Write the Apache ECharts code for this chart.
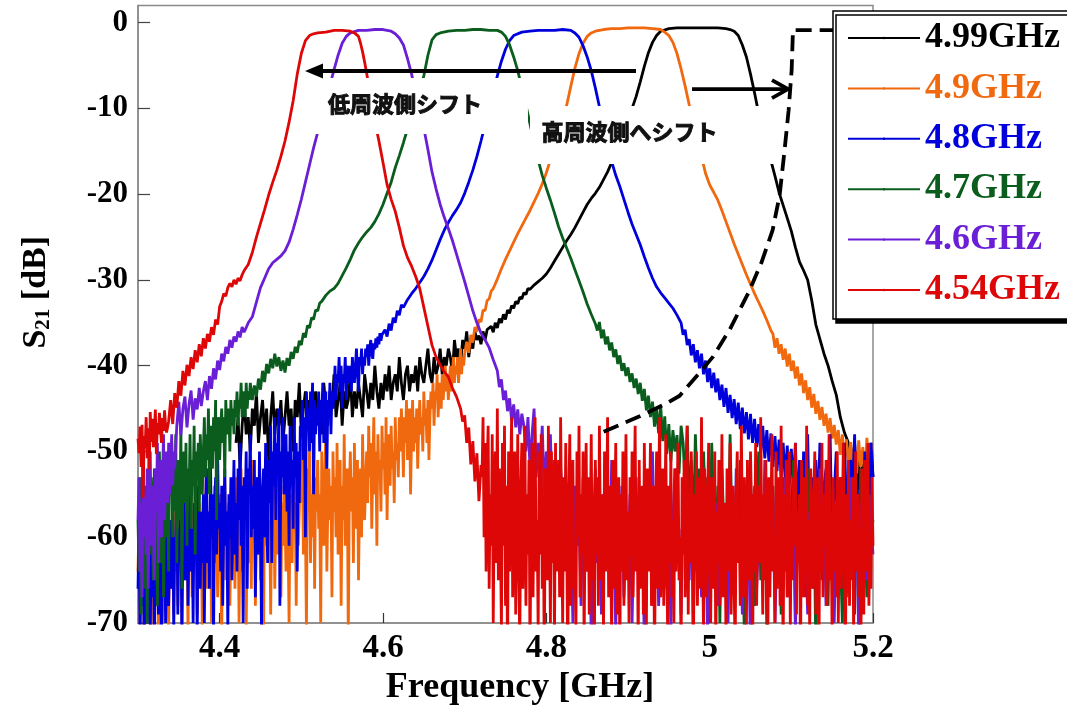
<!DOCTYPE html>
<html>
<head>
<meta charset="utf-8">
<script src="https://cdn.jsdelivr.net/npm/echarts@6/dist/echarts.min.js"></script>
<style>
  html, body { margin: 0; padding: 0; background: #fff; }
  #chart { width: 1067px; height: 708px; }
</style>
</head>
<body>
<div id="chart"></div>
<script>
// ---------- axes ----------
const X_TICKS = [4.4, 4.6, 4.8, 5.0, 5.2];
const Y_TICKS = [-70, -60, -50, -40, -30, -20, -10, 0];

// ---------- filters (centre frequency) ----------
const SERIES_NAMES = ['4.99GHz', '4.9GHz', '4.8GHz', '4.7GHz', '4.6GHz', '4.54GHz'];
const SERIES_COLORS = ['#000000', '#f0690f', '#0000dc', '#0b5d1e', '#6a1fd6', '#de0707'];

// frequency spacing of the VNA sweeps, GHz
const FINE_STEP = 0.00125;
const COARSE_STEP = 0.0025;

// ===== 4.99 GHz =====
const G499_LOW_START = 4.42;
const G499_LOW = [
  -49,-46,-52,-47,-44,-48,-46,
  -50,-45,-47,-43,-49,-46,-44,-48,-45,-51,-46,-43,-48,-45,-47,-44,
  -49,-46,-43,-47,-45,-50,-44,-46,-42,-48,-45,-43,-47,-44,-49,-45,
  -43,-46,-44,-48,-42,-45,-47,-43,-45,-41,-46,-44,-42,-47,-43,-45,
  -44,-41,-46,-43,-45,-42,-44,-46,-41,-43,-45,-42,-44,-40,-43,-45,
  -42,-44,-41,-43,-40,-44,-42,-41,-43,-39,-42,-44,-41,-40,-43,-41,
  -42,-40,-43,-39,-41,-42,-40,-38,-41,-42,-39,-41,-40,-38,-41,-39,
  -40,-38,-39,-41,-37,-39,-38,-40,-37,-38,-36,-39,-37,-38,-36,-37,
  -36.5,-37.5,-36,-37,-35.8
];
const G499_TRACE = [
  [4.7325,-35.4],[4.735,-36.1],[4.7375,-35.0],[4.740,-35.6],[4.7425,-34.5],[4.745,-35.0],[4.7475,-34.0],
  [4.750,-34.6],[4.7525,-33.5],[4.755,-33.9],[4.7575,-33.0],[4.760,-33.3],[4.7625,-32.5],[4.765,-32.8],
  [4.7675,-32.0],[4.770,-32.2],[4.7725,-31.5],[4.775,-31.7],[4.7775,-31.0],[4.780,-31.1],[4.785,-30.6],
  [4.790,-30.2],[4.795,-29.8],[4.800,-29.3],[4.805,-28.6],[4.810,-27.8],[4.815,-27.0],[4.820,-26.2],
  [4.825,-25.4],[4.830,-24.7],[4.835,-23.9],[4.840,-23.0],[4.845,-22.1],[4.850,-21.2],[4.855,-20.5],
  [4.860,-19.9],[4.865,-19.2],[4.870,-18.3],[4.875,-17.4],[4.880,-16.3],[4.885,-15.0],[4.890,-13.8],
  [4.895,-12.5],[4.900,-11.2],[4.905,-10.0],[4.910,-8.6],[4.915,-6.9],[4.920,-5.1],[4.925,-3.5],
  [4.930,-2.3],[4.935,-1.5],[4.940,-1.0],[4.950,-0.7],[4.960,-0.6],[4.970,-0.6],[4.980,-0.6],
  [4.990,-0.6],[5.000,-0.6],[5.010,-0.6],[5.020,-0.7],[5.025,-0.8],[5.030,-1.0],[5.035,-1.5],
  [5.040,-2.6],[5.045,-4.0],[5.050,-6.0],[5.055,-8.2],[5.060,-10.6],[5.065,-12.6],[5.070,-14.4],
  [5.075,-16.1],[5.080,-17.9],[5.085,-19.8],[5.090,-21.3],[5.095,-22.8],[5.100,-24.3],[5.105,-26.2],
  [5.110,-27.9],[5.115,-28.9],[5.120,-30.0],[5.125,-32.4],[5.130,-35.2],[5.135,-36.9],[5.140,-38.6],
  [5.145,-40.0],[5.150,-41.8],[5.155,-43.4],[5.160,-46.0],[5.165,-47.8],[5.170,-49.0]
];
const G499_HIGH_START = 5.1725;
const G499_HIGH = [-50,-53,-49,-55,-51,-57,-50,-54,-52,-56,-49,-53];

// ===== 4.9 GHz =====
const G490_LOW_START = 4.30;   // fine sweep
const G490_LOW = [
  -64,-58,-70,-61,-66,-57,-72,-60,-63,-56,-69,-62,-59,-71,-60,-65,
  -57,-68,-62,-55,-73,-60,-64,-58,-70,-61,-59,-67,-56,-63,-71,-60,
  -66,-58,-62,-69,-57,-64,-60,-68,
  -55,-63,-59,-70,-57,-52,-65,-61,-58,-72,-56,-62,-54,-67,-60,-57,
  -63,-53,-69,-59,-56,-64,-60,-71,-55,-61,-58,-52,-66,-59,-62,-57,
  -70,-56,-60,-54,-63,-58,-67,-61,-55,-59,-72,-57,-62,-53,-65,-60,
  -58,-56,-68,-61,-54,-63,-59,-66,
  -53,-61,-57,-70,-59,-52,-64,-56,-60,-55,-71,-58,-54,-63,-57,-66,
  -51,-60,-56,-68,-58,-53,-62,-57,-65,-55,-59,-72,-54,-61,-57,-52,
  -63,-58,-69,-56,-60,-53,-66,-57,-55,-62,-50,-59,-67,-56,-61,-54,
  -58,-64,-52,-60,-70,-55,-57,-63,-53,-59,-56,-68,-54,-61,-57,-51,
  -56,-49,-62,-54,-58,-71,-52,-57,-50,-63,-55,-60,-48,-66,-53,-57,
  -51,-59,-55,-70,-50,-56,-61,-53,-47,-64,-56,-52,-58,-54,-67,-50,
  -57,-53,-60,-49,-62,-55,-51,-68,-54,-58,-48,-61,-56,-52,-72,-55,
  -50,-57,-53,-63,-49,-59,-54,-51,-65,-56,-52,-60,-48,-55,-58,-53,
  -50,-56,-47,-53,-49,-59,-52,-46,-55,-50,-61,-48,-53,-51,-57,-47,
  -52,-49,-55,-46,-58,-50,-48,-54,-47,-52,-50,-56,-46,-51,-49,-53,
  -46,-50,-45,-48,-53,-46,-49,-44,-51,-47,-45,-55,-48,-44,-50,-46,
  -49,-45,-52,-47,-44,-48,-46,-50,-43,-47,-45,-49,-44,-51,-46,-43,
  -45,-42,-47,-43,-44,-41,-46,-43,-42,-45,-41,-44,-42,-40,-43,-41,
  -44,-42,-40,-43,-41,-39,-42,-40,-41,-39,-42,-40,-38,-41,-39,-40,
  -38.6
];
const G490_TRACE = [
  [4.7025,-37.2],[4.705,-38.5],[4.7075,-36.4],[4.710,-37.3],[4.7125,-35.5],[4.715,-36.0],[4.7175,-34.6],
  [4.720,-34.9],[4.7225,-33.5],[4.725,-33.6],[4.7275,-32.4],[4.730,-32.2],[4.7325,-31.3],[4.735,-31.0],
  [4.740,-29.9],[4.745,-28.7],[4.750,-27.6],[4.755,-26.6],[4.760,-25.6],[4.765,-24.6],[4.770,-23.7],
  [4.775,-22.8],[4.780,-21.9],[4.785,-20.9],[4.790,-19.9],[4.795,-18.8],[4.800,-17.5],[4.805,-16.0],
  [4.810,-14.5],[4.815,-12.9],[4.820,-11.3],[4.825,-9.6],[4.830,-7.4],[4.835,-5.3],[4.840,-3.6],
  [4.845,-2.4],[4.850,-1.6],[4.855,-1.2],[4.860,-1.0],[4.870,-0.8],[4.880,-0.7],[4.890,-0.7],
  [4.900,-0.6],[4.910,-0.6],[4.920,-0.6],[4.930,-0.7],[4.940,-0.8],[4.945,-1.1],[4.950,-1.5],
  [4.955,-2.3],[4.960,-3.6],[4.965,-5.4],[4.970,-7.4],[4.975,-9.6],[4.980,-11.7],[4.985,-13.6],
  [4.990,-15.6],[4.995,-17.6],[5.000,-18.9],[5.005,-19.8],[5.010,-20.7],[5.015,-21.9],[5.020,-23.2],
  [5.025,-24.5],[5.030,-25.8],[5.035,-27.0],[5.040,-28.2],[5.045,-29.4],[5.050,-30.5],[5.055,-31.6],
  [5.060,-32.6],[5.065,-33.6],[5.070,-34.7],[5.075,-35.9]
];
const G490_HIGH_START = 5.0775;
const G490_HIGH = [
  -36.3,-37.9,-36.8,-38.6,-37.5,-39.3,-38.0,-40.1,-38.6,-40.6,
  -39.4,-41.5,-40.1,-42.3,-40.9,-43.2,-41.7,-44.0,-42.5,-44.9,
  -43.3,-45.6,-44.1,-46.3,-44.8,-47.0,-45.6,-47.8,-46.1,-48.5,
  -46.9,-49.2,-47.5,-50.4,-48.0,-51.0,-48.6,-52.1,-48.9,-51.3,
  -49.2,-52.6,-48.7,-51.8,-49.5,-53.0,-48.4,-51.5,-49.1,-50.6
];

// ===== 4.8 GHz =====
const G480_LOW_START = 4.30;   // fine sweep
const G480_LOW = [
  -66,-59,-72,-62,-68,-57,-74,-63,-60,-70,-64,-58,-71,-61,-67,-59,
  -73,-62,-65,-58,-69,-63,-60,-72,-61,-66,-57,-70,-64,-59,-68,-62,
  -58,-66,-55,-71,-60,-63,-54,-69,-59,-62,-56,-73,-58,-53,-65,-61,
  -57,-68,-60,-55,-64,-59,-70,-56,-62,-58,-72,-54,-61,-66,-57,-63,
  -55,-70,-58,-52,-63,-57,-66,-51,-60,-55,-72,-57,-53,-62,-50,-59,
  -56,-64,-54,-68,-58,-52,-61,-57,-71,-55,-60,-53,-65,-58,-51,-62,
  -56,-64,-52,-58,-49,-61,-54,-70,-53,-57,-50,-66,-52,-55,-48,-60,
  -54,-59,-51,-67,-56,-53,-62,-50,-58,-71,-55,-52,-60,-49,-57,-63,
  -51,-56,-47,-63,-50,-54,-46,-58,-49,-52,-45,-68,-50,-53,-46,-55,
  -52,-48,-57,-50,-61,-47,-54,-51,-59,-46,-53,-49,-64,-50,-56,-47,
  -48,-44,-51,-46,-60,-43,-47,-45,-50,-43,-46,-42,-55,-44,-48,-45,
  -47,-43,-50,-44,-46,-42,-49,-45,-43,-52,-44,-46,-42,-48,-43,-45,
  -43,-40,-44,-41,-42,-39,-43,-40,-45,-41,-42,-39,-44,-40,-41,-42,
  -40,-43,-39,-41,-42,-40,-38,-41,-43,-39,-40,-38,-41,-39,-40,-38,
  -39,-37.5,-40,-38,-37,-38.6,-39.2,-37.4,-38.1,-36.8,-37.9,-36.6,-37.5,-36.2,-37.1,-36.4,-36.5
];
const G480_TRACE = [
  [4.6025,-35.8],[4.605,-36.6],[4.6075,-35.1],[4.610,-35.9],[4.6125,-34.4],[4.615,-35.0],[4.6175,-33.6],
  [4.620,-34.1],[4.6225,-32.9],[4.625,-33.2],[4.630,-32.3],[4.635,-31.6],[4.640,-31.0],[4.645,-30.3],
  [4.650,-29.6],[4.655,-28.7],[4.660,-27.7],[4.665,-26.5],[4.670,-25.3],[4.675,-24.2],[4.680,-23.3],
  [4.685,-22.5],[4.690,-21.8],[4.695,-21.0],[4.700,-19.9],[4.705,-18.6],[4.710,-17.2],[4.715,-15.6],
  [4.720,-13.8],[4.725,-11.9],[4.730,-10.0],[4.735,-8.1],[4.740,-6.2],[4.745,-4.5],[4.750,-3.1],
  [4.755,-2.1],[4.760,-1.5],[4.770,-1.1],[4.780,-1.0],[4.790,-0.9],[4.800,-0.9],[4.810,-0.9],
  [4.820,-0.8],[4.830,-0.9],[4.835,-1.2],[4.840,-1.7],[4.845,-2.7],[4.850,-4.0],[4.855,-5.6],
  [4.860,-7.6],[4.865,-9.8],[4.870,-12.1],[4.875,-14.3],[4.880,-16.2],[4.885,-17.8],[4.890,-19.1],
  [4.895,-20.6],[4.900,-22.1],[4.905,-23.5],[4.910,-24.7],[4.915,-25.9],[4.920,-27.3],[4.925,-28.6],
  [4.930,-29.8],[4.935,-30.8],[4.940,-31.5],[4.945,-32.1],[4.950,-32.7],[4.955,-33.3],[4.960,-34.1],
  [4.965,-35.0],[4.9675,-36.4],[4.970,-35.8],[4.9725,-37.6],[4.975,-36.9],[4.9775,-38.8],[4.980,-37.5],
  [4.9825,-39.6],[4.985,-38.2],[4.9875,-40.3],[4.990,-38.6],[4.9925,-41.0],[4.995,-39.4],[4.9975,-41.9],
  [5.000,-40.3],[5.0025,-42.6],[5.005,-40.8],[5.0075,-43.1],[5.010,-41.5],[5.0125,-44.0],[5.015,-42.2],
  [5.0175,-44.8],[5.020,-42.6],[5.0225,-45.5],[5.025,-43.4],[5.0275,-46.1],[5.030,-43.9],[5.0325,-46.8],
  [5.035,-44.3],[5.0375,-47.4],[5.040,-44.9],[5.0425,-47.9],[5.045,-45.4],[5.0475,-48.6],[5.050,-45.6],
  [5.0525,-49.0],[5.055,-46.2],[5.0575,-49.5],[5.060,-46.8],[5.0625,-50.1],[5.065,-47.0],[5.0675,-50.8],
  [5.070,-47.5],[5.0725,-51.2],[5.075,-47.9],[5.0775,-51.8],[5.080,-48.2],[5.0825,-52.3],[5.085,-48.6],
  [5.0875,-52.9],[5.090,-49.0],[5.0925,-53.4],[5.095,-49.3],[5.0975,-54.0],[5.100,-49.7]
];
const G480_HIGH_START = 5.1025;
const G480_HIGH = [
  -54,-49,-58,-51,-62,-50,-56,-48,-60,-53,
  -66,-51,-57,-49,-63,-54,-52,-59,-48,-61,
  -55,-50,-67,-53,-58,-49,-56,-62,-51,-54,
  -48,-60,-57,-52,-64,-50,-55,-58,-49,-53
];

// ===== 4.7 GHz =====
const G470_LOW_START = 4.30;   // fine sweep
const G470_LOW = [
  -58,-64,-53,-69,-57,-51,-66,-60,-54,-70,-56,-50,-62,-53,-59,-65,
  -52,-61,-57,-68,-55,-50,-63,-58,-54,-67,-56,-52,-60,-55,-64,-51,
  -55,-49,-60,-52,-57,-48,-63,-54,-51,-58,-47,-66,-53,-50,-56,-49,
  -61,-52,-55,-48,-59,-51,-54,-47,-62,-50,-53,-49,-57,-48,-52,-55,
  -50,-46,-53,-48,-51,-45,-55,-49,-47,-52,-46,-50,-44,-58,-48,-46,
  -51,-47,-45,-49,-46,-53,-44,-48,-46,-45,-50,-44,-47,-45,-48,-44,
  -46,-43,-47,-44,-45,-42,-46,-43,-44,-46,-42,-45,-43,-44,-42
];
const G470_TRACE = [
  [4.440,-44.0],[4.4425,-42.3],[4.445,-43.6],[4.4475,-41.5],[4.450,-42.8],[4.4525,-40.6],[4.455,-41.9],
  [4.4575,-39.8],[4.460,-40.9],[4.4625,-39.2],[4.465,-40.3],[4.4675,-38.6],[4.470,-40.1],[4.4725,-39.0],
  [4.475,-40.6],[4.4775,-39.4],[4.480,-40.8],[4.4825,-39.1],[4.485,-40.0],[4.4875,-38.4],[4.490,-39.2],
  [4.4925,-37.8],[4.495,-38.5],[4.4975,-37.1],[4.500,-37.6],[4.5025,-36.2],[4.505,-36.7],[4.5075,-35.3],
  [4.510,-35.6],[4.5125,-34.4],[4.515,-34.6],[4.5175,-33.5],[4.520,-33.6],[4.5225,-32.7],[4.525,-32.5],
  [4.530,-31.8],[4.535,-31.3],[4.540,-31.0],[4.545,-30.4],[4.550,-29.5],[4.555,-28.6],[4.560,-27.6],
  [4.565,-26.5],[4.570,-25.7],[4.575,-25.0],[4.580,-24.4],[4.585,-23.9],[4.590,-23.2],[4.595,-22.3],
  [4.600,-21.2],[4.605,-19.9],[4.610,-18.6],[4.615,-16.9],[4.620,-15.5],[4.625,-14.0],[4.630,-12.4],
  [4.635,-10.8],[4.640,-9.4],[4.645,-7.9],[4.650,-6.2],[4.655,-3.8],[4.660,-2.0],[4.665,-1.4],
  [4.670,-1.2],[4.680,-1.0],[4.690,-0.9],[4.700,-0.9],[4.710,-0.8],[4.720,-0.8],[4.730,-0.9],
  [4.740,-0.9],[4.745,-1.1],[4.750,-1.6],[4.755,-2.6],[4.760,-4.0],[4.765,-5.6],[4.770,-7.6],
  [4.775,-9.6],[4.780,-11.8],[4.785,-14.0],[4.790,-16.0],[4.795,-17.8],[4.800,-19.3],[4.805,-20.7],
  [4.810,-22.2],[4.815,-23.8],[4.820,-25.1],[4.825,-26.3],[4.830,-27.5],[4.835,-28.8],[4.840,-30.1],
  [4.845,-31.4],[4.850,-32.8],[4.855,-34.0],[4.860,-35.1],[4.8625,-35.9],[4.865,-34.9],[4.8675,-36.8],
  [4.870,-35.8],[4.8725,-37.5],[4.875,-36.6],[4.8775,-38.2],[4.880,-37.3],[4.8825,-39.0],[4.885,-38.1],
  [4.8875,-39.8],[4.890,-38.8],[4.8925,-40.6],[4.895,-39.7],[4.8975,-41.2],[4.900,-40.2],[4.9025,-41.9],
  [4.905,-40.9],[4.9075,-42.6],[4.910,-41.5],[4.9125,-43.3],[4.915,-42.0],[4.9175,-44.1],[4.920,-42.7],
  [4.9225,-45.2],[4.925,-43.5],[4.9275,-46.0],[4.930,-44.2],[4.9325,-47.1],[4.935,-45.0],[4.9375,-47.9],
  [4.940,-44.6],[4.9425,-48.8],[4.945,-45.9],[4.9475,-50.3],[4.950,-46.8],[4.9525,-51.2],[4.955,-47.5],
  [4.9575,-50.0],[4.960,-48.1],[4.9625,-52.6],[4.965,-47.0]
];
const G470_HIGH_START = 4.9675;
const G470_HIGH = [
  -49,-54,-47,-57,-51,-60,-48,-55,-52,-62,-50,-58,-53,-66,-49,-57,
  -61,-54,-70,-52,-59,-56,-64,-48,-60,-67,-55,-62,-51,-58,-72,-56,
  -63,-53,-60,-68,-57,-50,-65,-59,-55,-71,-58,-62,-54,-66,-60,-57,
  -69,-53,-61,-56,-64,-58,-51,-70,-60,-55,-63,-57,-67,-52,-59,-62,
  -56,-73,-58,-54,-65,-60,-57,-68,-53,-61,-59,-66,-55,-62,-70,-57,
  -60,-54,-64,-58,-69,-56,-61,-52,-63,-59,-67,-55,-60,-58
];

// ===== 4.6 GHz =====
const G460_LOW_START = 4.30;   // fine sweep
const G460_LOW = [
  -58,-53,-64,-56,-67,-51,-60,-55,-62,-52,-66,-57,-50,-61,-54,-59,
  -65,-52,-57,-49,-63,-55,-51,-60,-53,-48,-58,-54,-50,-56,-49,-55,
  -52,-48,-54,-50,-52
];
const G460_TRACE = [
  [4.3475,-47.0],[4.350,-44.2],[4.3525,-48.1],[4.355,-45.0],[4.3575,-43.6],[4.360,-47.2],[4.3625,-44.5],
  [4.365,-42.9],[4.3675,-46.3],[4.370,-43.8],[4.3725,-45.1],[4.375,-42.6],[4.3775,-44.7],[4.380,-43.0],
  [4.3825,-41.8],[4.385,-44.0],[4.3875,-41.2],[4.390,-42.7],[4.3925,-40.3],[4.395,-41.6],[4.3975,-39.4],
  [4.400,-40.5],[4.4025,-38.6],[4.405,-39.5],[4.4075,-37.8],[4.410,-38.6],[4.4125,-37.0],[4.415,-37.9],
  [4.4175,-36.6],[4.420,-37.2],[4.4225,-36.0],[4.425,-36.7],[4.4275,-35.5],[4.430,-36.1],[4.435,-35.0],
  [4.440,-34.3],[4.445,-32.6],[4.450,-30.9],[4.455,-29.8],[4.460,-28.7],[4.465,-28.0],[4.470,-27.6],
  [4.475,-27.2],[4.480,-26.6],[4.485,-25.6],[4.490,-24.1],[4.495,-22.4],[4.500,-20.6],[4.505,-18.6],
  [4.510,-16.6],[4.515,-14.6],[4.520,-12.8],[4.525,-11.0],[4.530,-9.2],[4.535,-7.3],[4.540,-5.5],
  [4.545,-3.8],[4.550,-2.4],[4.555,-1.6],[4.560,-1.2],[4.570,-0.9],[4.580,-0.9],[4.590,-0.8],
  [4.600,-0.8],[4.610,-1.0],[4.615,-1.3],[4.620,-1.8],[4.625,-2.6],[4.630,-4.2],[4.635,-6.0],
  [4.640,-8.2],[4.645,-10.2],[4.650,-12.3],[4.655,-14.8],[4.660,-17.4],[4.665,-19.4],[4.670,-21.2],
  [4.675,-22.7],[4.680,-24.0],[4.685,-25.4],[4.690,-27.0],[4.695,-28.6],[4.700,-30.2],[4.705,-31.9],
  [4.710,-33.6],[4.715,-35.0],[4.720,-36.2],[4.725,-37.0],[4.730,-37.9],[4.735,-39.3],[4.740,-40.6],
  [4.7425,-42.5],[4.745,-41.6],[4.7475,-44.0],[4.750,-42.9],[4.7525,-45.3],[4.755,-43.8],[4.7575,-46.4],
  [4.760,-44.5],[4.7625,-47.2],[4.765,-45.1],[4.7675,-48.0],[4.770,-45.6]
];
const G460_HIGH_START = 4.7725;
const G460_HIGH = [
  -47,-50,-46,-52,-48,-45,-53,-49,-51,-47,-55,-50,-53,-48,-57,-51,-54,-60,-52,-56,
  -62,-55,-66,-58,-70,-54,-61,-57,-68,-53,-60,-64,-56,-72,-59,-52,
  -63,-57,-69,-55,-61,-58,-66,-51,-60,-71,-56,-63,-54,-67,-59,-62,
  -55,-70,-58,-53,-64,-60,-57,-73,-55,-62,-59,-50,-65,-57,-68,-61,
  -54,-60,-66,-56,-71,-58,-52,-63,-59,-69,-55,-61,-57,-65,-53,-70,
  -58,-62,-55,-67,-60,-57,-72,-54,-63,-59,-56,-68,-61,-53,-64,-58,
  -70,-56,-60,-65,-52,-62,-58,-69,-55,-61,-57,-74,-59,-54,-66,-60,
  -57,-63,-51,-68,-58,-61,-55,-70,-60,-56,-64,-59,-53,-67,-57,-62,
  -55,-71,-60,-58,-65,-54,-61,-69,-57,-63,-56,-59,-66,-52,-60,-58,
  -68,-55,-62,-57,-70,-59,-54,-64,-61,-56,-67,-58,-53,-63,-60,-57,
  -72,-56,-61,-59,-65,-55,-58,-62
];

// ===== 4.54 GHz =====
const G454_LOW_START = 4.30;   // fine sweep
const G454_LOW = [
  -48.5,-50.2,-47.1,-51.8,-46.9,-55.4,-48.2,-49.6,-46.0,-50.8,-47.3,-52.1,-45.4,-48.9,-46.2,
  -49.5,-47.8,-45.1,-50.3,-46.7,-48.0,-45.5,-47.2,-49.0,-46.1,-47.6,-45.2,-46.9,-47.8
];
const G454_TRACE = [
  [4.3375,-46.5],[4.340,-44.0],[4.3425,-46.8],[4.345,-43.2],[4.3475,-44.9],[4.350,-41.8],[4.3525,-43.5],
  [4.355,-40.6],[4.3575,-42.3],[4.360,-39.9],[4.3625,-41.2],[4.365,-39.0],[4.3675,-40.4],[4.370,-38.2],
  [4.3725,-39.6],[4.375,-37.5],[4.3775,-38.9],[4.380,-36.8],[4.3825,-38.0],[4.385,-36.3],[4.3875,-37.2],
  [4.390,-35.5],[4.3925,-36.4],[4.395,-34.6],[4.3975,-35.2],[4.400,-33.1],[4.4025,-32.5],[4.405,-31.6],
  [4.4075,-31.9],[4.410,-30.9],[4.4125,-30.4],[4.415,-30.8],[4.4175,-30.0],[4.420,-30.5],[4.4225,-29.8],
  [4.425,-30.1],[4.4275,-29.4],[4.430,-28.9],[4.435,-28.2],[4.440,-26.8],[4.445,-25.0],[4.450,-23.4],
  [4.455,-21.8],[4.460,-20.1],[4.465,-18.6],[4.470,-17.2],[4.475,-15.6],[4.480,-13.8],[4.485,-11.6],
  [4.490,-9.1],[4.495,-6.0],[4.500,-3.6],[4.505,-2.1],[4.510,-1.5],[4.515,-1.3],[4.520,-1.2],
  [4.530,-1.1],[4.540,-0.9],[4.550,-0.9],[4.560,-1.0],[4.565,-1.2],[4.570,-1.6],[4.5725,-2.4],
  [4.575,-3.4],[4.5775,-4.6],[4.580,-5.9],[4.585,-8.8],[4.590,-11.5],[4.595,-13.8],[4.600,-16.3],
  [4.605,-18.9],[4.610,-20.6],[4.615,-22.0],[4.620,-23.9],[4.625,-26.0],[4.630,-27.4],[4.635,-28.4],
  [4.640,-29.6],[4.645,-31.0],[4.650,-33.2],[4.655,-35.4],[4.660,-37.6],[4.665,-39.0],[4.670,-39.9],
  [4.675,-40.7],[4.680,-41.3],[4.685,-42.6],[4.690,-43.6],[4.695,-45.0],[4.6975,-46.5],[4.700,-45.8],
  [4.7025,-49.0],[4.705,-47.2],[4.7075,-51.5],[4.710,-48.8],[4.7125,-53.5],[4.715,-50.2],[4.7175,-55.8],
  [4.720,-51.6]
];
const G454_HIGH_START = 4.72125;   // fine sweep
const G454_HIGH = [
  -53,-46,-60,-49,-64,-52,-47,-66,-55,-61,-48,-70,-56,-50,-63,-45,
  -65,-52,-59,-71,-49,-61,-47,-68,-54,-75,-50,-64,-53,-46,-67,-58,
  -50,-69,-60,-48,-63,-73,-54,-49,-66,-57,-47,-68,-55,-62,-51,-74,
  -59,-49,-67,-53,-46,-64,-58,-71,-50,-62,-48,-66,-55,-76,-52,-60,
  -65,-47,-58,-70,-50,-63,-54,-72,-49,-64,-60,-51,-67,-46,-59,-70,
  -53,-64,-49,-61,-75,-55,-48,-68,-58,-51,-66,-62,-71,-50,-60,-47,
  -67,-55,-62,-50,-73,-58,-49,-64,-53,-69,-60,-48,-65,-57,-76,-51,
  -62,-53,-68,-47,-60,-65,-55,-71,-50,-64,-58,-46,-67,-54,-61,-72,
  -51,-66,-58,-49,-69,-61,-53,-75,-55,-64,-50,-68,-60,-48,-65,-57,
  -70,-53,-62,-50,-67,-56,-47,-64,-58,-73,-51,-66,-60,-54,-69,-49,
  -61,-71,-52,-64,-58,-49,-68,-62,-54,-76,-57,-50,-66,-55,-46,-67,
  -59,-52,-68,-61,-48,-64,-72,-54,-63,-50,-67,-58,-70,-52,-64,-56,
  -49,-65,-60,-74,-53,-62,-51,-67,-57,-47,-69,-55,-63,-50,-60,-77,
  -55,-64,-50,-68,-59,-53,-66,-46,-62,-71,-52,-58,-67,-55,-49,-64,
  -70,-53,-60,-66,-50,-75,-57,-63,-51,-68,-61,-48,-67,-56,-59,-72,
  -52,-64,-58,-49,-69,-61,-54,-66,-74,-55,-50,-63,-59,-68,-47,-58,
  -67,-53,-62,-71,-51,-60,-65,-50,-57,-77,-55,-64,-49,-68,-59,-54,
  -63,-46,-60,-69,-55,-65,-51,-62,-72,-53,-67,-58,-48,-64,-60,-70,
  -50,-66,-58,-53,-68,-47,-62,-73,-55,-64,-51,-67,-59,-50,-71,-57,
  -65,-53,-61,-49,-69,-57,-63,-55,-76,-51,-60,-67,-53,-64,-47,-68,
  -58,-71,-52,-62,-66,-55,-50,-69,-60,-53,-74,-57,-64,-49,-67,-55,
  -61,-51,-68,-58,-48,-65,-60,-72,-53,-64,-56,-67,-50,-70,-59,-53,
  -66,-57,-49,-63,-75,-55,-62,-51,-68,-58,-65,-53,-71,-60,-50,-64,
  -55,-67,-59,-78,-52,-62,-69,-51,-64,-57,-49,-68,-60,-66,-53,-61
];

// design target curve (dashed)
const TARGET_CURVE = [
  [4.8702,-47.7],[4.9143,-45.9],[4.9449,-44.5],[4.9633,-43.5],[4.9878,-40.8],[5.0037,-39.0],
  [5.0245,-35.8],[5.049,-31.2],[5.0637,-27.9],[5.0771,-24.2],[5.0857,-20.1],[5.0918,-14.8],
  [5.0967,-10.2],[5.1004,-5.5],[5.102,-0.86],[5.15,-0.86],[5.2,-0.86]
];

// ---------- annotation anchors (GHz, dB) ----------
const SHIFT_LOW_ARROW  = { from: [4.9098, -5.64], tip: [4.5045, -5.64] };
const SHIFT_HIGH_ARROW = { from: [4.9784, -7.74], tip: [5.0959, -7.74] };
const SHIFT_LABELS = [
  { text: '低周波側シフト',   at: [4.6269, -9.49],  box: [[4.5045, -6.45], [4.7775, -12.98]] },
  { text: '高周波側へシフト', at: [4.9018, -12.75], box: [[4.7800, -9.72], [5.0837, -16.48]] }
];

// ---------- assemble sweeps ----------
function sweep(start, step, values) {
  return values.map((v, i) => [+(start + i * step).toFixed(5), v]);
}
const SERIES_DATA = [
  [...sweep(G499_LOW_START, COARSE_STEP, G499_LOW), ...G499_TRACE, ...sweep(G499_HIGH_START, COARSE_STEP, G499_HIGH)],
  [...sweep(G490_LOW_START, FINE_STEP, G490_LOW), ...G490_TRACE, ...sweep(G490_HIGH_START, COARSE_STEP, G490_HIGH)],
  [...sweep(G480_LOW_START, FINE_STEP, G480_LOW), ...G480_TRACE, ...sweep(G480_HIGH_START, COARSE_STEP, G480_HIGH)],
  [...sweep(G470_LOW_START, FINE_STEP, G470_LOW), ...G470_TRACE, ...sweep(G470_HIGH_START, COARSE_STEP, G470_HIGH)],
  [...sweep(G460_LOW_START, FINE_STEP, G460_LOW), ...G460_TRACE, ...sweep(G460_HIGH_START, COARSE_STEP, G460_HIGH)],
  [...sweep(G454_LOW_START, FINE_STEP, G454_LOW), ...G454_TRACE, ...sweep(G454_HIGH_START, FINE_STEP, G454_HIGH)]
];

// ---------- chart ----------
const SERIF = '"Liberation Serif", "Times New Roman", serif';
const AXIS_GRAY = '#8a8a8a';

const chart = echarts.init(document.getElementById('chart'), null, { renderer: 'canvas' });

const option = {
  animation: false,
  backgroundColor: '#ffffff',
  grid: {
    left: 138, top: 5.5, width: 735, height: 617.5,
    show: true, borderColor: AXIS_GRAY, borderWidth: 1.5,
    containLabel: false, outerBoundsMode: 'none'
  },
  xAxis: {
    type: 'value', min: 4.3, max: 5.2,
    axisLine: { show: true, onZero: false, lineStyle: { color: AXIS_GRAY, width: 1.5 } },
    axisTick: { show: true, inside: true, length: 10, customValues: X_TICKS, lineStyle: { color: '#333', width: 1.2 } },
    axisLabel: {
      customValues: X_TICKS,
      formatter: v => String(parseFloat(Number(v).toFixed(2))),
      fontFamily: SERIF, fontWeight: 'bold', fontSize: 33, color: '#000', margin: 9
    },
    splitLine: { show: false },
    name: 'Frequency [GHz]', nameLocation: 'middle', nameGap: 46,
    nameTextStyle: { fontFamily: SERIF, fontWeight: 'bold', fontSize: 36, color: '#000', padding: [0, 0, 0, 29] }
  },
  yAxis: {
    type: 'value', min: -70, max: 2,
    axisLine: { show: true, onZero: false, lineStyle: { color: AXIS_GRAY, width: 1.5 } },
    axisTick: { show: true, inside: true, length: 12, customValues: Y_TICKS, lineStyle: { color: '#444', width: 1.2 } },
    axisLabel: {
      customValues: Y_TICKS,
      fontFamily: SERIF, fontWeight: 'bold', fontSize: 31, color: '#000', margin: 10
    },
    splitLine: { show: false },
    name: 'S{sub|21} [dB]', nameLocation: 'middle', nameRotate: 90, nameGap: 84,
    nameTextStyle: {
      fontFamily: SERIF, fontWeight: 'bold', fontSize: 34, color: '#000', padding: [0, 0, 0, 44],
      rich: { sub: { fontFamily: SERIF, fontWeight: 'bold', fontSize: 21, color: '#000', padding: [14, 0, 0, 0] } }
    }
  },
  legend: {
    data: SERIES_NAMES.map((n, i) => ({ name: n, textStyle: { color: SERIES_COLORS[i] } })),
    orient: 'vertical', left: 833, top: 11,
    padding: [9, 40, 11, 14],
    itemWidth: 72, itemHeight: 3, itemGap: 14.4,
    backgroundColor: '#ffffff', borderColor: '#000', borderWidth: 1.5,
    shadowColor: '#000', shadowBlur: 0.5, shadowOffsetX: 3, shadowOffsetY: 4,
    textStyle: { fontFamily: SERIF, fontWeight: 'bold', fontSize: 36, lineHeight: 36 },
    selectedMode: false
  },
  series: [
    ...SERIES_NAMES.map((name, i) => ({
      name, type: 'line', data: SERIES_DATA[i],
      symbol: 'none', showSymbol: false,
      lineStyle: { width: 2.8, color: SERIES_COLORS[i] },
      itemStyle: { color: SERIES_COLORS[i] }
    })),
    {
      name: 'target', type: 'line', data: TARGET_CURVE,
      symbol: 'none', showSymbol: false,
      lineStyle: { width: 3.8, color: '#000', type: [16, 8] },
      itemStyle: { color: '#000' }
    }
  ]
};

chart.setOption(option);

// ---------- shift arrows and labels ----------
const P = (pt) => chart.convertToPixel({ gridIndex: 0 }, pt);
const graphics = [];

SHIFT_LABELS.forEach(lbl => {
  const a = P(lbl.box[0]), b = P(lbl.box[1]);
  graphics.push({
    type: 'rect', z: 50, silent: true,
    shape: { x: a[0], y: a[1], width: b[0] - a[0], height: b[1] - a[1] },
    style: { fill: '#ffffff' }
  });
  const c = P(lbl.at);
  graphics.push({
    type: 'text', z: 60, silent: true, x: c[0], y: c[1],
    style: {
      text: lbl.text, fill: '#111', stroke: '#111', lineWidth: 1.0,
      font: 'bold 22px "Noto Sans CJK JP", sans-serif',
      align: 'center', verticalAlign: 'middle'
    }
  });
});

// arrow toward lower frequencies: solid triangular head
{
  const s = P(SHIFT_LOW_ARROW.from), t = P(SHIFT_LOW_ARROW.tip);
  graphics.push({
    type: 'line', z: 60, silent: true,
    shape: { x1: s[0], y1: s[1], x2: t[0] + 12, y2: t[1] },
    style: { stroke: '#000', lineWidth: 3.8 }
  });
  graphics.push({
    type: 'polygon', z: 60, silent: true,
    shape: { points: [[t[0], t[1]], [t[0] + 18, t[1] - 7.5], [t[0] + 18, t[1] + 7.5]] },
    style: { fill: '#000' }
  });
}
// arrow toward higher frequencies: open head
{
  const s = P(SHIFT_HIGH_ARROW.from), t = P(SHIFT_HIGH_ARROW.tip);
  graphics.push({
    type: 'line', z: 60, silent: true,
    shape: { x1: s[0], y1: s[1], x2: t[0] - 2, y2: t[1] },
    style: { stroke: '#000', lineWidth: 3.8 }
  });
  graphics.push({
    type: 'polyline', z: 60, silent: true,
    shape: { points: [[t[0] - 16, t[1] - 9], [t[0], t[1]], [t[0] - 16, t[1] + 9]] },
    style: { stroke: '#000', lineWidth: 3.8, fill: null, lineJoin: 'miter' }
  });
}

chart.setOption({ graphic: graphics });
</script>
</body>
</html>
